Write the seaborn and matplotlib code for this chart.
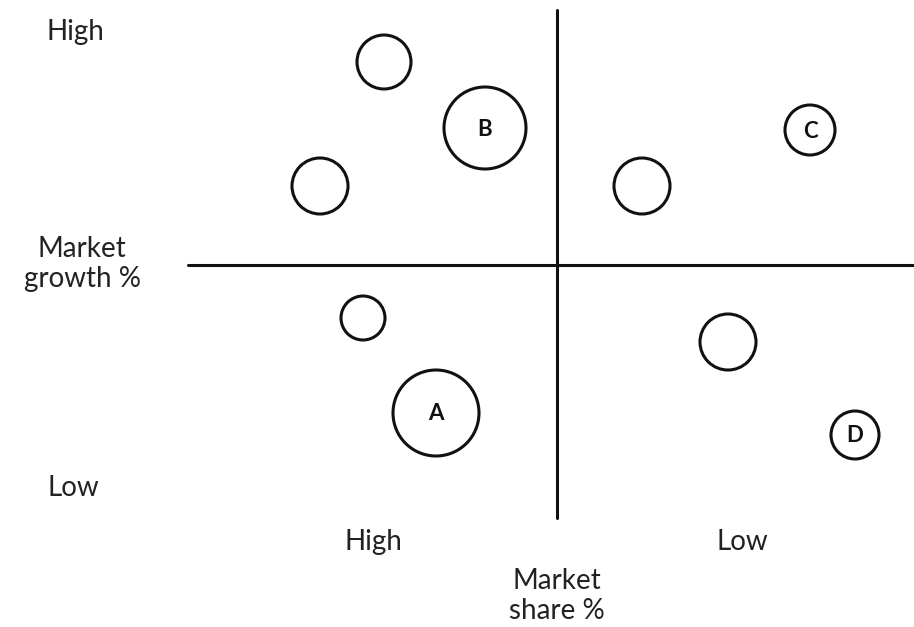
import matplotlib
matplotlib.use("Agg")
import matplotlib.pyplot as plt
import seaborn as sns
import pandas as pd

# circle data (pixel-like units, y grows downward)
share_pos = [384, 485, 320, 642, 810, 363, 436, 728, 855]
growth_pos = [62, 128, 186, 186, 130, 318, 413, 342, 435]
radius = [27, 41, 28, 28, 25, 22, 43, 28, 24]
labels = ["", "B", "", "", "C", "", "A", "", "D"]

# quadrant divider
split_x = 557
split_y = 265
h_line_start = 188
v_line_top = 10
v_line_bottom = 518

W, H = 914, 627

def run_chart():
    sns.set_theme(style="white")
    plt.rcParams['font.family'] = ['Lato', 'DejaVu Sans']

    df = pd.DataFrame({'share': share_pos, 'growth': growth_pos,
                       'r': radius, 'label': labels})

    fig = plt.figure(figsize=(W / 100, H / 100), dpi=100)
    ax = fig.add_axes([0, 0, 1, 1])
    ax.set_xlim(0, W)
    ax.set_ylim(H, 0)
    ax.axis('off')

    # pixel radius -> marker area in points^2
    px2pt = 72 / 100
    areas = [(2 * r * px2pt) ** 2 for r in df['r']]

    sns.scatterplot(data=df, x='share', y='growth', s=areas,
                    facecolor='white', edgecolor='#111111', linewidth=2.2,
                    ax=ax, legend=False, zorder=3)

    for _, row in df.iterrows():
        if row['label']:
            ax.text(row['share'], row['growth'] + 1, row['label'], ha='center', va='center',
                    fontsize=16, fontweight='bold', color='#111111', zorder=4)

    ax.plot([h_line_start, W], [split_y, split_y], color='#111111', lw=2.2, zorder=1)
    ax.plot([split_x, split_x], [v_line_top, v_line_bottom], color='#111111', lw=2.2, zorder=1)

    fs = 20
    tc = '#222222'
    ax.text(75, 32, "High", ha='center', va='center', fontsize=fs, color=tc)
    ax.text(73, 488, "Low", ha='center', va='center', fontsize=fs, color=tc)
    ax.text(82, 264, "Market\ngrowth %", ha='center', va='center', fontsize=fs,
            linespacing=1.15, color=tc)
    ax.text(373, 542, "High", ha='center', va='center', fontsize=fs, color=tc)
    ax.text(742, 542, "Low", ha='center', va='center', fontsize=fs, color=tc)
    ax.text(557, 596, "Market\nshare %", ha='center', va='center', fontsize=fs,
            linespacing=1.15, color=tc)

    fig.savefig('out.png', dpi=100, facecolor='white')
    plt.close(fig)

if __name__ == "__main__":
    run_chart()
